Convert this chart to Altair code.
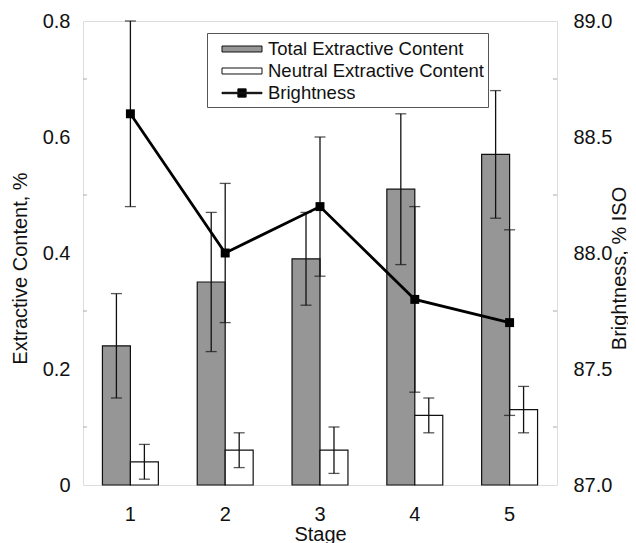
import altair as alt
import pandas as pd

stages = [1, 2, 3, 4, 5]
total = [0.24, 0.35, 0.39, 0.51, 0.57]
total_lo = [0.15, 0.23, 0.31, 0.38, 0.46]
total_hi = [0.33, 0.47, 0.47, 0.64, 0.68]
neutral = [0.04, 0.06, 0.06, 0.12, 0.13]
neutral_lo = [0.01, 0.03, 0.02, 0.09, 0.09]
neutral_hi = [0.07, 0.09, 0.10, 0.15, 0.17]
brightness = [88.6, 88.0, 88.2, 87.8, 87.7]
bright_lo = [88.2, 87.7, 87.9, 87.4, 87.3]
bright_hi = [89.0, 88.3, 88.5, 88.2, 88.1]

series_names = ["Total Extractive Content", "Neutral Extractive Content", "Brightness"]
left_ticks = [0, 0.2, 0.4, 0.6, 0.8]
left_minor = [0.1, 0.3, 0.5, 0.7]
right_ticks = [87.0, 87.5, 88.0, 88.5, 89.0]
right_minor = [87.25, 87.75, 88.25, 88.75]

FONT = "Liberation Sans"
FS = 20
W, H = 474, 464

bars_df = pd.DataFrame({
    "Stage": stages * 2,
    "series": [series_names[0]] * 5 + [series_names[1]] * 5,
    "value": total + neutral,
    "lo": total_lo + neutral_lo,
    "hi": total_hi + neutral_hi,
})
bright_df = pd.DataFrame({"Stage": stages, "value": brightness, "lo": bright_lo, "hi": bright_hi})
legend_df = pd.DataFrame({"series": series_names})

fill_scale = alt.Scale(domain=series_names, range=["#969696", "#ffffff", "#000000"])
shape_scale = alt.Scale(
    domain=series_names,
    range=[
        "M-1.74,-0.26H1.74V0.26H-1.74Z",
        "M-1.74,-0.26H1.74V0.26H-1.74Z",
        "M-1.74,-0.06H1.74V0.06H-1.74ZM-0.36,-0.36H0.36V0.36H-0.36Z",
    ],
)
leg = alt.Legend(
    title=None, orient="none", legendX=124, legendY=12,
    labelFont=FONT, labelFontSize=18.5, labelColor="#111", labelLimit=0,
    symbolSize=529, symbolStrokeColor="#111", symbolStrokeWidth=1,
    strokeColor="#555", fillColor="white", padding=4, rowPadding=0,
    labelOffset=14, symbolOffset=19,
)

x_enc = alt.X("Stage:O", scale=alt.Scale(paddingInner=0.41, paddingOuter=0.205),
              axis=alt.Axis(title="Stage", labelAngle=0, tickSize=0, domain=False,
                            labelFont=FONT, labelFontSize=FS, labelPadding=19, labelColor="#111",
                            titleFont=FONT, titleFontSize=FS, titleFontWeight="normal",
                            titlePadding=0, titleColor="#111"))
xoff = alt.XOffset("series:N", scale=alt.Scale(domain=series_names[:2], paddingInner=0, paddingOuter=0))
y_left_scale = alt.Scale(domain=[0, 0.8], nice=False, zero=True)
y_left_axis = alt.Axis(
    title="Extractive Content, %", orient="left", values=left_ticks,
    labelExpr="datum.value == 0 ? '0' : format(datum.value, '.1f')",
    tickSize=0, domain=False, grid=False, labelPadding=13,
    labelFont=FONT, labelFontSize=FS, labelColor="#111",
    titleFont=FONT, titleFontSize=FS, titleFontWeight="normal", titleColor="#111",
    titlePadding=12, titleY=247,
)

base_bars = alt.Chart(bars_df)
bars = base_bars.mark_bar(stroke="#111", strokeWidth=1.2).encode(
    x=x_enc, xOffset=xoff,
    y=alt.Y("value:Q", scale=y_left_scale, axis=y_left_axis),
    fill=alt.Fill("series:N", scale=fill_scale, legend=leg),
)
bar_err = base_bars.mark_rule(color="#111", strokeWidth=1.3).encode(
    x=x_enc, xOffset=xoff, y="lo:Q", y2="hi:Q")
bar_cap_lo = base_bars.mark_tick(color="#111", size=11, thickness=1.3).encode(
    x=x_enc, xOffset=xoff, y="lo:Q")
bar_cap_hi = base_bars.mark_tick(color="#111", size=11, thickness=1.3).encode(
    x=x_enc, xOffset=xoff, y="hi:Q")
left_minor_ticks = alt.Chart(pd.DataFrame({"v": left_minor})).mark_rule(color="#aaa", strokeWidth=1).encode(
    y="v:Q", x=alt.value(0), x2=alt.value(4))
legend_layer = alt.Chart(legend_df).mark_point(filled=True, stroke="#111", opacity=1).encode(
    fill=alt.Fill("series:N", scale=fill_scale, legend=leg),
    shape=alt.Shape("series:N", scale=shape_scale, legend=leg),
).transform_filter("false")

left = alt.layer(bars, bar_err, bar_cap_lo, bar_cap_hi, left_minor_ticks, legend_layer)

y_right_scale = alt.Scale(domain=[87, 89], nice=False, zero=False)
y_right_axis = alt.Axis(
    title="Brightness, % ISO", orient="right", values=right_ticks, format=".1f",
    tickSize=0, domain=False, grid=False, labelPadding=16,
    labelFont=FONT, labelFontSize=FS, labelColor="#111",
    titleFont=FONT, titleFontSize=FS, titleFontWeight="normal", titleColor="#111",
    titleAngle=270, titleBaseline="top", titleX=52, titleY=247,
)
base_b = alt.Chart(bright_df)
b_err = base_b.mark_rule(color="#111", strokeWidth=1.3).encode(
    x=x_enc, y=alt.Y("lo:Q", scale=y_right_scale, axis=y_right_axis), y2="hi:Q")
b_cap_lo = base_b.mark_tick(color="#111", size=11, thickness=1.3).encode(x=x_enc, y="lo:Q")
b_cap_hi = base_b.mark_tick(color="#111", size=11, thickness=1.3).encode(x=x_enc, y="hi:Q")
b_line = base_b.mark_line(color="#000", strokeWidth=2.8).encode(x=x_enc, y="value:Q")
b_pts = base_b.mark_point(shape="square", filled=True, color="#000", size=80, opacity=1).encode(
    x=x_enc, y="value:Q")
right_minor_ticks = alt.Chart(pd.DataFrame({"v": right_minor})).mark_rule(color="#aaa", strokeWidth=1).encode(
    y="v:Q", x=alt.value(W - 4), x2=alt.value(W))

right = alt.layer(b_err, b_cap_lo, b_cap_hi, b_line, b_pts, right_minor_ticks)

chart = alt.layer(left, right).resolve_scale(y="independent").properties(
    width=W, height=H,
    autosize=alt.AutoSizeParams(type="none"),
    padding={"left": 75, "top": 13, "right": 71, "bottom": 58},
).configure_view(stroke="#222", strokeWidth=1.8).configure(background="white")

chart.save("out.html", embed_options={"renderer": "svg", "actions": False})
